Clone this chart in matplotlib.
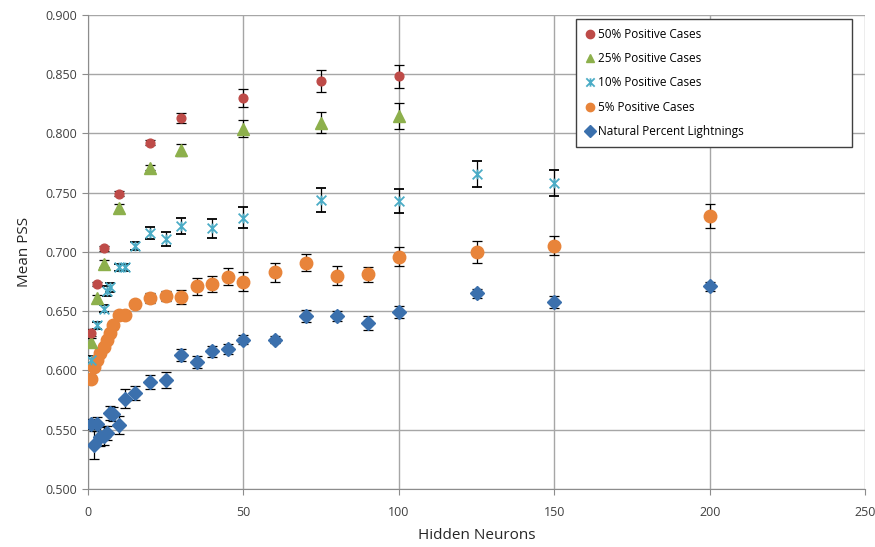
import numpy as np
import matplotlib.pyplot as plt
from matplotlib.path import Path

# Mean PSS vs number of hidden neurons, one series per training-set balance
x_50 = [1, 3, 5, 10, 20, 30, 50, 75, 100]
pss_50 = [0.632, 0.673, 0.703, 0.749, 0.792, 0.813, 0.830, 0.844, 0.848]
err_50 = [0.003, 0.002, 0.002, 0.002, 0.002, 0.004, 0.0075, 0.009, 0.010]

x_25 = [1, 3, 5, 10, 20, 30, 50, 75, 100]
pss_25 = [0.624, 0.661, 0.690, 0.737, 0.771, 0.786, 0.804, 0.809, 0.815]
err_25 = [0.003, 0.003, 0.003, 0.003, 0.002, 0.005, 0.007, 0.009, 0.011]

x_10 = [1, 3, 5, 6, 7, 10, 12, 15, 20, 25, 30, 40, 50, 75, 100, 125, 150]
pss_10 = [0.609, 0.638, 0.652, 0.667, 0.670, 0.687, 0.687, 0.705, 0.716, 0.711,
          0.722, 0.720, 0.729, 0.744, 0.743, 0.766, 0.758]
err_10 = [0.003, 0.003, 0.003, 0.004, 0.004, 0.003, 0.003, 0.003, 0.005, 0.006,
          0.007, 0.008, 0.009, 0.010, 0.010, 0.011, 0.011]

x_5 = [1, 2, 3, 4, 5, 6, 7, 8, 10, 12, 15, 20, 25, 30, 35, 40, 45, 50, 60, 70,
       80, 90, 100, 125, 150, 200]
pss_5 = [0.593, 0.603, 0.609, 0.615, 0.620, 0.626, 0.632, 0.638, 0.647, 0.647,
         0.656, 0.661, 0.663, 0.662, 0.671, 0.673, 0.679, 0.675, 0.683, 0.691,
         0.680, 0.681, 0.696, 0.700, 0.705, 0.730]
err_5 = [0.002, 0.002, 0.002, 0.002, 0.002, 0.002, 0.002, 0.003, 0.003, 0.003,
         0.003, 0.004, 0.004, 0.006, 0.007, 0.007, 0.007, 0.008, 0.008, 0.007,
         0.008, 0.006, 0.008, 0.009, 0.008, 0.010]

x_nat = [1, 2, 3, 4, 5, 6, 7, 8, 10, 12, 15, 20, 25, 30, 35, 40, 45, 50, 60,
         70, 80, 90, 100, 125, 150, 200]
pss_nat = [0.555, 0.537, 0.555, 0.544, 0.545, 0.547, 0.564, 0.563, 0.554, 0.576,
           0.581, 0.590, 0.592, 0.613, 0.607, 0.616, 0.618, 0.626, 0.626, 0.646,
           0.646, 0.640, 0.649, 0.665, 0.658, 0.671]
err_nat = [0.004, 0.012, 0.006, 0.008, 0.008, 0.006, 0.006, 0.006, 0.008, 0.008,
           0.006, 0.006, 0.007, 0.005, 0.005, 0.005, 0.004, 0.004, 0.003, 0.005,
           0.004, 0.006, 0.005, 0.004, 0.005, 0.004]

# star marker: an X with a vertical stroke
star = Path([(-1, -1), (1, 1), (-1, 1), (1, -1), (0, -1), (0, 1)],
            [Path.MOVETO, Path.LINETO, Path.MOVETO, Path.LINETO, Path.MOVETO, Path.LINETO])

plt.rcParams['font.family'] = ['Open Sans', 'DejaVu Sans']
fig = plt.figure(figsize=(8.75, 5.47), dpi=100)
ax = fig.add_axes([0.1006, 0.106, 0.888, 0.867])

ebkw = dict(ls='none', ecolor='black', elinewidth=0.9, capsize=3.5, capthick=0.9)

ax.errorbar(x_nat, pss_nat, yerr=err_nat, marker='D', ms=7, color='#3b70ad',
            mec='#3b70ad', label='Natural Percent Lightnings', zorder=3, **ebkw)
ax.errorbar(x_5, pss_5, yerr=err_5, marker='o', ms=9, color='#e8843a',
            mec='#e8843a', label='5% Positive Cases', zorder=3, **ebkw)
ax.errorbar(x_10, pss_10, yerr=err_10, marker=star, ms=7, color='#4bacc6',
            mec='#4bacc6', mew=1.3, label='10% Positive Cases', zorder=3, **ebkw)
ax.errorbar(x_25, pss_25, yerr=err_25, marker='^', ms=8, color='#8db04c',
            mec='#8db04c', label='25% Positive Cases', zorder=3, **ebkw)
ax.errorbar(x_50, pss_50, yerr=err_50, marker='o', ms=6.3, color='#be4b48',
            mec='#be4b48', label='50% Positive Cases', zorder=3, **ebkw)

ax.set_xlim(0, 250)
ax.set_ylim(0.5, 0.9)
ax.set_xticks(np.arange(0, 251, 50))
ax.set_yticks(np.arange(0.5, 0.901, 0.05))
ax.set_yticklabels([f'{v:.3f}' for v in np.arange(0.5, 0.901, 0.05)])
ax.grid(True, color='#a6a6a6', lw=1)
ax.set_axisbelow(True)
for s in ['top', 'right']:
    ax.spines[s].set_visible(False)
for s in ['left', 'bottom']:
    ax.spines[s].set_color('#8c8c8c')
ax.tick_params(colors='#8c8c8c', labelcolor='#404040', labelsize=9, length=4)
ax.tick_params(axis='x', pad=8)

ax.set_xlabel('Hidden Neurons', fontsize=11, color='#262626', labelpad=7)
ax.set_ylabel('Mean PSS', fontsize=11, color='#262626', labelpad=10)

handles, labels = ax.get_legend_handles_labels()
handles = [h[0] for h in handles[::-1]]
leg = ax.legend(handles, labels[::-1], loc='upper left',
                bbox_to_anchor=(0.628, 0.992, 0.355, 0.0), mode='expand',
                fontsize=8.5, labelspacing=0.95, borderpad=0.8, handlelength=0.8,
                handletextpad=0.3, fancybox=False, framealpha=1,
                edgecolor='#404040', borderaxespad=0)
leg.get_frame().set_linewidth(1)
for h in leg.legend_handles:
    h.set_markersize(6)

fig.savefig('out.png', dpi=100)
